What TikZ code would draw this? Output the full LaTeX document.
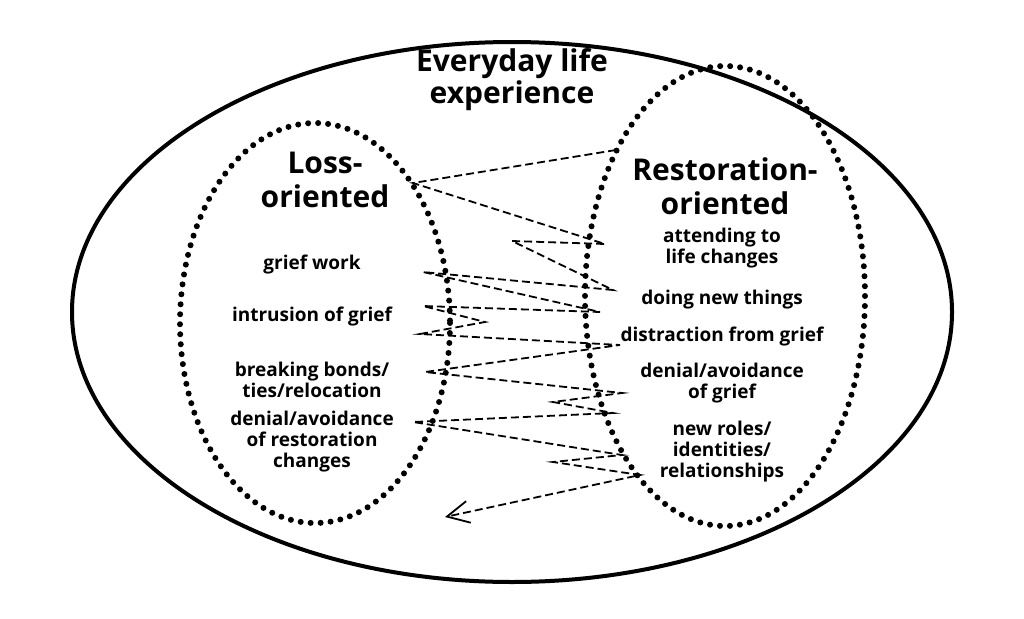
\documentclass[tikz,border=0pt]{standalone}
\usepackage{fontspec}
\setmainfont{Open Sans}
\usetikzlibrary{arrows.meta}
\begin{document}
\begin{tikzpicture}[x=1pt,y=-1pt]
            \useasboundingbox (0,0) rectangle (1024,618);
            % Everyday life
            \draw[line width=4pt] (512,312) ellipse (440 and 270);
            \node[font=\fontsize{30}{32}\selectfont\bfseries, align=center] (life) at (512,80) {Everyday life\\experience};
            
            % Two orientations
            \draw[line width=6pt, dash pattern=on 0pt off 10pt, line cap=round] (315,323) ellipse (135 and 200);
            \draw[line width=6pt, dash pattern=on 0pt off 10pt, line cap=round] (725,296) ellipse (140 and 230);
            \node[font=\fontsize{30}{34}\selectfont\bfseries, align=center] (loss) at (325,180) {Loss-\\oriented};
            \node[font=\fontsize{30}{34}\selectfont\bfseries, align=center] (rest) at (725,186) {Restoration-\\oriented};
            
            % Loss items
            \foreach \y/\t in {265/grief work, 317/intrusion of grief, 380/{breaking bonds/\\ties/relocation}, 442/{denial/avoidance\\of restoration\\changes}} {
                \node[font=\fontsize{19}{21}\selectfont\bfseries, align=center] at (312,\y) {\t};
            }
            
            % Restoration items
            \foreach \y/\t in {248/{attending to\\life changes}, 300/doing new things, 337/distraction from grief, 383/{denial/avoidance\\of grief}, 452/{new roles/\\identities/\\relationships}} {
                \node[font=\fontsize{19}{21}\selectfont\bfseries, align=center] at (722,\y) {\t};
            }
            
            % Oscillation
            \draw[line width=1.8pt, dash pattern=on 8pt off 4pt, -{Straight Barb[open,length=22pt,width=22pt,line width=1.8pt]}]
                (616,150) -- (413,183) -- (605,244) -- (512,241) -- (613,290) -- (423,272) -- (600,312)
                -- (423,306) -- (485,322) -- (420,334) -- (620,345) -- (425,372) -- (622,393) -- (553,402)
                -- (613,413) -- (413,422) -- (622,455) -- (553,462) -- (640,475) -- (445,517);
        \end{tikzpicture}
\end{document}
